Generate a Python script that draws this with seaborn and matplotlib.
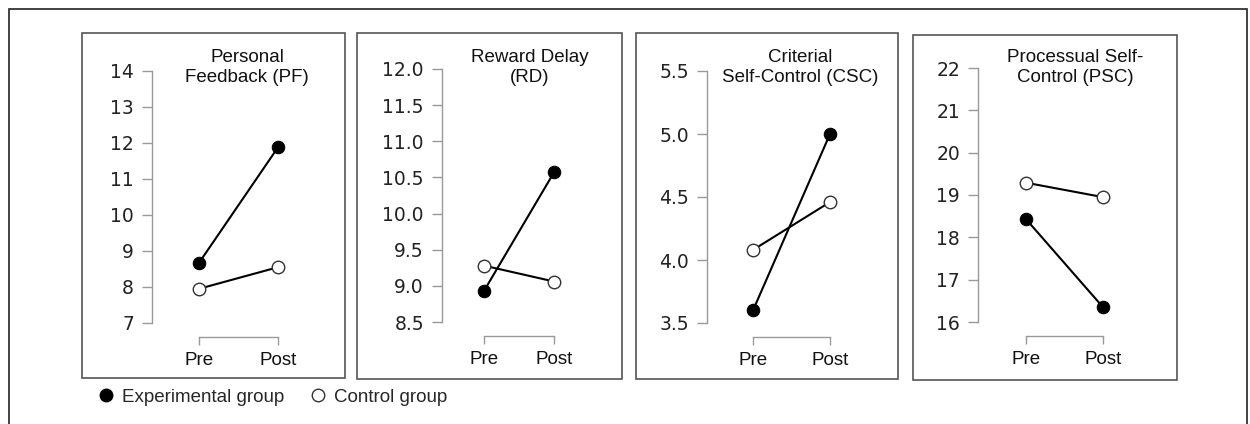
import matplotlib
matplotlib.use('Agg')
import pandas as pd
import seaborn as sns
import matplotlib.pyplot as plt
from matplotlib.patches import Rectangle
from matplotlib.lines import Line2D

sns.set_style('white')
plt.rcParams['font.family'] = ['Liberation Sans', 'DejaVu Sans']

# data
times = ['Pre', 'Post']
groups = ['Experimental group', 'Control group']
titles = ['Personal\nFeedback (PF)', 'Reward Delay\n(RD)',
          'Criterial\nSelf-Control (CSC)', 'Processual Self-\nControl (PSC)']
exp_pf = [8.67, 11.88]
ctl_pf = [7.95, 8.55]
exp_rd = [8.93, 10.57]
ctl_rd = [9.28, 9.06]
exp_csc = [3.60, 5.00]
ctl_csc = [4.08, 4.46]
exp_psc = [18.43, 16.35]
ctl_psc = [19.29, 18.95]
yticks_pf = [7, 8, 9, 10, 11, 12, 13, 14]
yticks_rd = [8.5, 9.0, 9.5, 10.0, 10.5, 11.0, 11.5, 12.0]
yticks_csc = [3.5, 4.0, 4.5, 5.0, 5.5]
yticks_psc = [16, 17, 18, 19, 20, 21, 22]

series = [(exp_pf, ctl_pf, yticks_pf, '{:.0f}'),
          (exp_rd, ctl_rd, yticks_rd, '{:.1f}'),
          (exp_csc, ctl_csc, yticks_csc, '{:.1f}'),
          (exp_psc, ctl_psc, yticks_psc, '{:.0f}')]

rows = []
for k, (exp, ctl, _, _) in enumerate(series):
    for g, vals in zip(groups, [exp, ctl]):
        for t, v in enumerate(vals):
            rows.append({'panel': k, 'group': g, 't': t, 'value': v})
df = pd.DataFrame(rows)

# layout in pixels
W, H = 1250, 424
# left spine x, Pre x, Post x, top tick y, bottom tick y
axes_px = [(152, 199, 278, 71, 323),
           (442, 484, 554, 69, 322),
           (707, 753, 830, 71, 323),
           (978, 1026, 1103, 68, 322)]
frames_px = [(82, 33, 345, 378), (357, 33, 622, 379),
             (636, 33, 898, 379), (913, 35, 1177, 380)]
title_x = [247, 530, 800, 1075]


def fx(px):
    return px / W


def fy(py):
    return 1 - py / H


fig = plt.figure(figsize=(12.5, 4.24), dpi=100)

fig.patches.append(Rectangle((fx(9), fy(440)), fx(1247) - fx(9), fy(9) - fy(440),
                             transform=fig.transFigure, fill=False,
                             edgecolor='#222222', linewidth=1.2))

for k, (exp, ctl, yt, fmt) in enumerate(series):
    l, t, r, b = frames_px[k]
    fig.patches.append(Rectangle((fx(l), fy(b)), fx(r) - fx(l), fy(t) - fy(b),
                                 transform=fig.transFigure, fill=False,
                                 edgecolor='#555555', linewidth=1.2))

    sx, p0, p1, ytop, ybot = axes_px[k]
    right = p1 + 45
    ax = fig.add_axes([fx(sx), fy(ybot), fx(right) - fx(sx), fy(ytop) - fy(ybot)])
    ax.patch.set_alpha(0)

    sub = df[df.panel == k]
    sns.lineplot(data=sub[sub.group == groups[1]], x='t', y='value', ax=ax,
                 color='black', linewidth=1.5, marker='o', markersize=9,
                 markerfacecolor='white', markeredgecolor='#333333',
                 markeredgewidth=1.0, clip_on=False)
    sns.lineplot(data=sub[sub.group == groups[0]], x='t', y='value', ax=ax,
                 color='black', linewidth=1.5, marker='o', markersize=9,
                 markerfacecolor='black', markeredgecolor='black', clip_on=False)

    for s in ['top', 'right']:
        ax.spines[s].set_visible(False)
    ax.spines['bottom'].set_position(('outward', 10))
    for s in ['left', 'bottom']:
        ax.spines[s].set_color('#999999')
        ax.spines[s].set_linewidth(1.0)

    unit = p1 - p0
    ax.set_xlim((sx - p0) / unit, 1 + (right - p1) / unit)
    ax.set_ylim(yt[0], yt[-1])
    ax.set_xticks([0, 1])
    ax.set_xticklabels(times, fontsize=13.5, color='#111111')
    ax.set_yticks(yt)
    ax.set_yticklabels([fmt.format(v) for v in yt], fontfamily='DejaVu Sans',
                       fontsize=13.5, color='#222222')
    ax.spines['left'].set_bounds(yt[0], yt[-1])
    ax.spines['bottom'].set_bounds(0, 1)
    ax.set_xlabel('')
    ax.set_ylabel('')

    ax.tick_params(axis='y', length=7, width=1, color='#999999', pad=6, left=True)
    ax.tick_params(axis='x', length=6, width=1, color='#999999', pad=5, bottom=True)

    fig.text(fx(title_x[k]), fy(49), titles[k], ha='center', va='top',
             fontsize=13.5, color='#111111', linespacing=1.22)

handles = [Line2D([], [], color='none', marker='o', markersize=9,
                  markerfacecolor='black', markeredgecolor='black', label=groups[0]),
           Line2D([], [], color='none', marker='o', markersize=9,
                  markerfacecolor='white', markeredgecolor='#333333',
                  markeredgewidth=1.0, label=groups[1])]
fig.legend(handles=handles, loc='center left', bbox_to_anchor=(fx(80), fy(397)),
           ncol=2, frameon=False, fontsize=13.5, handlelength=1.0,
           handletextpad=0.35, columnspacing=1.3)

fig.savefig('out.png', dpi=100)
